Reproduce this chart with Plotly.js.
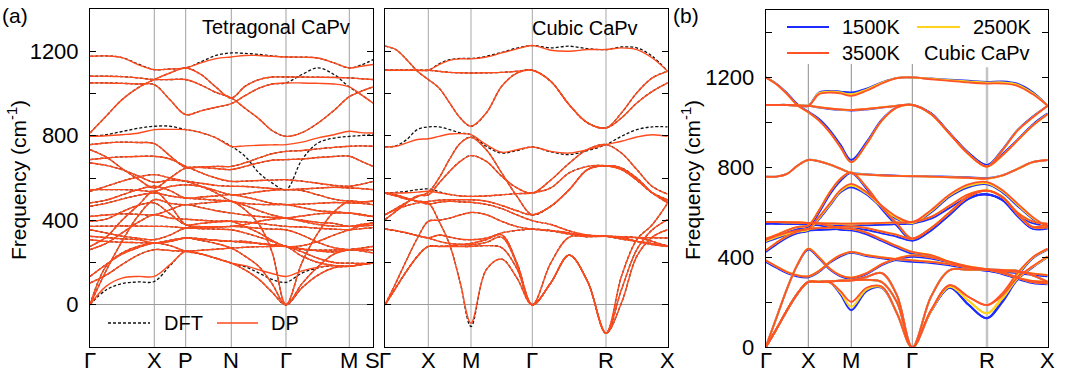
<!DOCTYPE html>
<html><head><meta charset="utf-8">
<script src="https://cdn.plot.ly/plotly-3.0.1.min.js"></script>
<style>body{margin:0;background:#fff}#c{width:1080px;height:383px}</style>
</head><body><div id="c"></div>
<script>
// ---------- k-paths (distance along path) ----------
const tetraK = [0,16,32,48,64.3,80,95.7,111,126,141.3,155,169,182,196,212,228,244,259.3,271,283];
const tetraTickPos = [0,64.3,95.7,141.3,196,259.3,283];
const tetraTickText = ['Γ','X','P','N','Γ','M','S'];

const cubicK = [0,10.8,21.7,32.5,43.3,54,64.7,75.3,86,101.3,116.7,132,147.3,165.7,184.2,202.6,221,236.4,251.8,267.3,282.7];
const cubicTickPos = [0,43.3,86,147.3,221,282.7];
const cubicTickText = ['Γ','X','M','Γ','R','X'];

const tempK = [0,10.65,21.3,31.95,42.6,53.35,64.1,74.85,85.6,100.85,116.1,131.35,146.6,165.3,183.95,202.65,221.3,236.5,251.65,266.85,282];
const tempTickPos = [0,42.6,85.6,146.6,221.3,282];
const tempTickText = ['Γ','X','M','Γ','R','X'];

// ---------- panel (a) left: tetragonal CaPv, DP bands (cm^-1) ----------
const t1  = [1176,1178,1170,1137,1113,1116,1121,1145,1165,1173,1180,1180,1176,1173,1172,1168,1145,1121,1129,1137];
const t2  = [1082,1082,1080,1074,1066,1066,1066,1040,1005,979,930,880,825,797,815,860,920,985,1010,1031];
const t3  = [1050,1050,1048,1045,1042,970,900,918,935,952,990,1025,1045,1050,1050,1048,1045,1031,995,955];
const t4  = [813,892,971,1027,1066,1097,1121,1090,1030,979,1034,1066,1078,1078,1078,1077,1076,1074,1070,1066];
const t5  = [797,800,805,812,829,830,829,815,790,750,752,755,757,758,770,790,805,821,815,813];
const t6  = [758,766,770,768,763,705,650,652,655,655,672,695,715,726,730,738,745,750,752,750];
const t7  = [734,700,645,595,553,600,647,650,645,640,655,672,684,687,690,697,702,703,680,655];
const t8  = [687,695,700,702,703,690,655,625,600,584,585,588,590,592,585,575,565,561,570,584];
const t9  = [671,660,640,610,580,590,585,575,565,561,560,555,550,545,548,552,556,553,550,545];
const t10 = [545,545,545,542,537,560,568,560,540,521,525,535,542,545,540,520,500,490,487,490];
const t11 = [537,560,585,605,616,600,585,560,530,490,480,475,474,474,476,480,484,482,480,474];
const t12 = [482,495,520,545,561,540,505,510,515,521,510,495,480,474,460,445,440,434,428,418];
const t13 = [466,480,500,518,529,515,505,500,495,490,470,445,425,410,400,390,385,371,380,387];
const t14 = [418,425,430,428,426,450,474,460,445,434,425,418,413,410,395,380,372,371,373,376];
const t15 = [395,405,440,470,482,430,379,385,392,395,392,385,378,371,368,362,358,355,360,365];
const t16 = [371,372,373,372,371,370,363,364,367,371,368,362,358,355,330,295,270,261,258,261];
const t17 = [355,340,325,315,308,330,363,360,358,355,340,320,300,276,262,258,259,261,255,245];
const t18 = [324,318,312,308,292,305,316,312,305,300,295,290,284,276,250,220,200,197,196,197];
const t19 = [308,300,296,294,292,300,316,310,305,300,300,290,283,276,230,200,186,182,190,197];
const t20 = [276,320,400,470,537,470,379,370,370,371,380,395,405,410,420,430,434,434,425,418];
const t21 = [261,290,340,390,426,410,405,400,396,395,370,340,305,276,280,300,330,355,375,387];
const t22 = [134,190,240,270,292,280,253,240,220,197,185,165,148,134,160,178,185,182,190,197];
const t23 = [0,87,126,134,134,190,253,240,220,197,165,120,60,0,80,140,175,182,190,197];
const t24 = [0,182,245,276,292,300,316,305,290,268,230,180,100,0,100,180,240,261,268,276];
const t25 = [0,160,300,420,497,480,474,480,486,490,450,380,250,0,200,340,440,490,487,490];
const t26 = [103,140,190,235,261,257,253,258,263,268,272,275,276,276,265,255,250,261,262,261];
// DFT where it departs from DP
const dftT1  = [1176,1178,1170,1140,1113,1116,1121,1150,1180,1192,1190,1185,1178,1173,1172,1168,1145,1121,1135,1160];
const dftT3  = [1050,1050,1048,1045,1042,970,900,918,935,952,990,1025,1045,1050,1090,1121,1090,1031,995,955];
const dftT5  = [797,805,820,835,845,845,829,815,790,750,703,624,577,545,687,766,789,797,801,805];
const dftT22 = [134,190,240,270,292,280,253,240,220,197,180,150,120,106,150,175,185,182,190,197];
const dftT23 = [0,70,100,108,110,185,253,240,220,197,165,120,60,0,80,140,175,182,190,197];

// ---------- panel (a) right: cubic CaPv, DP bands ----------
const c1  = [1224,1208,1160,1105,1066,1026,955,884,845,908,1034,1097,1110,1058,947,861,837,884,955,1010,1050];
const c2  = [1110,1110,1110,1110,1110,1137,1157,1164,1164,1173,1192,1211,1227,1205,1200,1208,1208,1216,1208,1168,1105];
const c3  = [1110,1110,1110,1110,1110,1105,1100,1098,1097,1098,1100,1105,1110,1058,947,861,837,908,1003,1074,1105];
const c4  = [747,750,766,782,786,797,808,810,805,758,722,734,747,726,718,734,758,774,794,805,797];
const c5  = [426,455,485,512,532,600,690,765,793,734,624,513,426,466,545,640,658,647,592,529,482];
const c6  = [403,442,482,516,520,576,632,679,706,679,608,553,529,590,670,735,758,718,640,560,524];
const c7  = [529,529,530,533,537,530,522,515,513,515,520,526,529,553,624,655,658,640,590,530,497];
const c8  = [426,450,469,482,489,495,497,497,497,490,470,445,426,466,545,640,658,647,600,530,490];
const c9  = [529,520,505,490,477,485,490,487,485,475,455,425,398,380,350,330,324,311,300,290,280];
const c10 = [0,103,213,316,395,400,410,425,437,426,395,370,358,350,335,325,324,320,318,317,316];
const c11 = [358,351,340,327,316,330,320,310,308,315,340,352,358,352,340,328,324,318,300,285,276];
const c12 = [0,80,160,230,276,276,278,285,290,308,331,197,0,197,320,322,324,322,318,300,276];
const c13 = [0,80,160,230,276,276,276,276,276,280,270,170,0,103,235,110,-134,71,261,355,403];
const c14 = [529,515,500,490,482,395,284,103,-87,166,216,126,0,103,235,110,-134,8,229,320,355];
const c15 = [358,351,340,327,316,300,290,286,284,295,320,190,0,103,235,110,-134,134,308,379,482];
const dftC2  = [1110,1110,1110,1110,1110,1140,1160,1166,1166,1176,1195,1215,1227,1216,1224,1212,1208,1220,1216,1176,1105];
const dftC4  = [747,752,782,830,842,842,829,813,805,750,718,730,747,724,711,730,758,797,829,842,842];
const dftC7  = [529,532,537,545,548,535,522,515,513,515,520,526,529,553,624,655,658,640,590,530,497];
const dftC14 = [529,515,500,490,482,395,284,103,-103,166,216,126,0,103,235,110,-134,8,229,320,355];

// ---------- panel (b): cubic CaPv at 3500 K ----------
const e1r  = [1200,1170,1126,1075,1045,1008,956,889,823,904,1008,1067,1078,1037,949,860,804,875,963,1022,1074];
const e2r  = [1078,1078,1078,1076,1074,1126,1133,1129,1118,1141,1173,1197,1200,1192,1185,1178,1173,1173,1163,1126,1074];
const e3r  = [1078,1078,1077,1075,1074,1068,1062,1058,1055,1060,1067,1074,1078,1037,949,860,804,853,919,985,1037];
const e4r  = [759,759,771,808,833,827,813,794,774,768,764,762,761,759,756,754,750,764,793,823,833];
const e5r  = [483,500,520,535,542,610,690,750,778,712,624,550,483,530,600,670,697,668,594,535,550];
const e6r  = [476,495,510,520,527,580,640,700,727,690,630,580,557,610,680,725,735,700,640,580,535];
const e7r  = [557,557,556,555,553,552,551,550,550,551,553,555,557,580,630,680,697,670,600,560,550];
const e8r  = [431,465,495,515,527,530,532,535,538,530,515,500,483,530,600,670,697,668,594,535,535];
const e9r  = [557,557,556,555,553,550,540,530,527,510,480,450,424,410,380,355,346,340,335,328,321];
const e10r = [0,130,260,370,439,400,350,320,310,330,370,395,409,400,380,360,346,330,310,295,291];
const e11r = [387,360,335,320,316,340,380,410,424,410,400,392,387,380,370,355,346,335,310,290,284];
const e12r = [0,80,165,240,291,291,293,296,298,313,330,230,0,225,343,345,346,344,340,320,291];
const e13r = [0,80,165,240,291,291,289,250,202,265,270,150,0,165,276,225,188,240,330,400,439];
const e14r = [0,80,165,240,291,291,293,296,298,300,290,200,0,165,276,225,188,230,310,360,405];
// 1500 K
const e1b  = [1200,1172,1130,1080,1048,1015,965,900,833,912,1012,1068,1078,1040,952,865,810,878,965,1025,1074];
const e2b  = [1078,1078,1078,1076,1074,1133,1140,1137,1133,1150,1178,1198,1200,1195,1190,1185,1180,1182,1172,1135,1074];
const e3b  = [1078,1078,1077,1075,1074,1066,1060,1056,1053,1058,1066,1074,1078,1040,952,865,810,858,922,990,1040];
const e4b  = [759,759,771,808,833,827,813,794,776,770,766,763,761,760,758,756,752,764,793,823,833];
const e5b  = [475,492,510,525,533,600,680,740,775,705,615,540,475,520,590,660,680,655,585,528,540];
const e6b  = [468,485,500,510,518,570,630,690,712,680,620,570,550,600,670,712,725,690,630,572,528];
const e7b  = [550,550,549,548,546,545,543,542,542,543,545,548,550,572,620,668,680,658,592,552,540];
const e8b  = [424,458,488,508,519,522,524,527,530,522,507,492,475,520,590,660,680,655,585,528,528];
const e9b  = [550,550,549,548,546,543,533,523,520,503,473,443,417,405,375,350,341,336,330,322,316];
const e10b = [0,130,260,368,435,396,346,316,305,326,366,390,403,395,376,356,341,326,306,290,286];
const e11b = [380,354,330,315,312,336,376,405,420,406,396,387,380,375,365,350,341,330,305,286,280];
const e12b = [0,80,165,240,291,291,293,296,298,313,330,230,0,225,343,345,346,344,340,320,291];
const e13b = [0,80,165,240,291,291,289,235,165,250,265,150,0,160,265,190,129,210,315,395,435];
const e14b = [0,80,165,240,291,291,293,296,298,300,290,200,0,160,265,190,129,200,300,355,400];
// 2500 K
const e2y  = [1078,1078,1078,1076,1074,1130,1137,1133,1125,1146,1176,1198,1200,1194,1188,1182,1177,1178,1168,1130,1074];
const e6y  = [472,490,505,515,522,575,635,695,720,685,625,575,553,605,675,718,730,695,635,576,531];
const e13y = [0,80,165,240,291,291,289,243,180,257,267,150,0,162,270,208,151,225,322,398,437];
const e14y = [0,80,165,240,291,291,293,296,298,300,290,200,0,162,270,208,151,215,305,358,402];

// ---------- build ----------
const traces = [];
function addBands(xa, ya, k, bands, color, width, dash) {
  bands.forEach(b => traces.push({
    x: k, y: b, xaxis: xa, yaxis: ya, type: 'scatter', mode: 'lines',
    line: {color: color, width: width, dash: dash || 'solid', shape: 'spline', smoothing: 1},
    hoverinfo: 'skip'
  }));
}
const RED = '#ff4a1c', BLACK = '#111', BLUE = '#1e2cff', YEL = '#ffd21c', RED3 = '#ff5226';
const DOT = '3px,2px';

const tetraDP = [t1,t2,t3,t4,t5,t6,t7,t8,t9,t10,t11,t12,t13,t14,t15,t16,t17,t18,t19,t20,t21,t22,t23,t24,t25,t26];
const tetraDFT = [dftT1,t2,dftT3,t4,dftT5,t6,t7,t8,t9,t10,t11,t12,t13,t14,t15,t16,t17,t18,t19,t20,t21,dftT22,dftT23,t24,t25,t26];
const cubicDP = [c1,c2,c3,c4,c5,c6,c7,c8,c9,c10,c11,c12,c13,c14,c15];
const cubicDFT = [c1,dftC2,c3,dftC4,c5,c6,dftC7,c8,c9,c10,c11,c12,c13,dftC14,c15];
const t1500 = [e1b,e2b,e3b,e4b,e5b,e6b,e7b,e8b,e9b,e10b,e11b,e12b,e13b,e14b];
const t2500 = [e1r,e2y,e3r,e4r,e5r,e6y,e7r,e8r,e9r,e10r,e11r,e12r,e13y,e14y];
const t3500 = [e1r,e2r,e3r,e4r,e5r,e6r,e7r,e8r,e9r,e10r,e11r,e12r,e13r,e14r];

addBands('x','y',tetraK,tetraDFT,BLACK,1.3,DOT);
addBands('x','y',tetraK,tetraDP,RED,1.4);
addBands('x2','y2',cubicK,cubicDFT,BLACK,1.3,DOT);
addBands('x2','y2',cubicK,cubicDP,RED,1.4);
addBands('x3','y3',tempK,t1500,BLUE,2);
addBands('x3','y3',tempK,t2500,YEL,2);
addBands('x3','y3',tempK,t3500,RED3,1.8);

const FONT = 'Liberation Sans, Arial, Helvetica, sans-serif';

function xax(dom, range, anchor) {
  return {domain: dom, range: range, anchor: anchor, ticks: '', showticklabels: false,
    showline: true, mirror: true, linecolor: '#000', linewidth: 1, showgrid: false, zeroline: false,
    fixedrange: true};
}
function yax(dom, range, anchor, showLabels) {
  return {domain: dom, range: range, anchor: anchor, tickmode: 'linear', tick0: 0, dtick: 400,
    ticks: 'inside', ticklen: 6, tickwidth: 1, tickcolor: '#000',
    minor: {tickmode: 'linear', tick0: 0, dtick: 200, ticks: 'inside', ticklen: 6, tickwidth: 1, tickcolor: '#000', showgrid: false},
    showline: true, mirror: 'ticks', linecolor: '#000',
    linewidth: 1, showgrid: false, zeroline: true, zerolinecolor: '#9a9a9a', zerolinewidth: 1,
    showticklabels: showLabels, ticklabelstandoff: 6,
    tickfont: {family: FONT, size: 22, color: '#000'}, fixedrange: true};
}

const domY = [0.094, 0.9765];
const domY3 = [0.0932, 0.9739];
const shapes = [];
function vline(xa, ya, x, y0, y1, color, w) {
  shapes.push({type: 'line', xref: xa, yref: ya, x0: x, x1: x, y0: y0, y1: y1,
    line: {color: color, width: w}, layer: 'below'});
}
tetraTickPos.slice(1, -1).forEach(p => vline('x','y',p,-200,1400,'#a0a0a0',1));
cubicTickPos.slice(1, -1).forEach(p => vline('x2','y2',p,-200,1400,'#a8a8a8',1));
tempTickPos.slice(1, 4).forEach(p => vline('x3','y3',p,0,1260,'#8c8c8c',1));
vline('x3','y3',tempTickPos[4],0,1245,'#c4c4c4',2.5);

// legend samples (paper coords)
function seg(x0, x1, y, color, w, dash) {
  shapes.push({type: 'line', xref: 'paper', yref: 'paper', x0: x0/1080, x1: x1/1080,
    y0: (383-y)/383, y1: (383-y)/383, line: {color: color, width: w, dash: dash || 'solid'}});
}
seg(108,150,323,BLACK,1.4,DOT);
seg(217,258,323,RED,1.4);
seg(787,829,27,BLUE,2);
seg(917,960,27,YEL,2);
seg(787,829,53,RED3,2);

const annotations = [];
function txt(text, x, y, size, xanchor, angle) {
  annotations.push({text: text, xref: 'paper', yref: 'paper', x: x/1080, y: (383-y)/383,
    xanchor: xanchor || 'center', yanchor: 'middle', showarrow: false, textangle: angle || 0,
    font: {family: FONT, size: size, color: '#000'}});
}
// high-symmetry point labels, placed on each panel's x scale
function kLabels(xa, pos, labels) {
  pos.forEach((p, i) => annotations.push({text: labels[i], xref: xa, yref: 'paper', x: p,
    y: (383-360)/383, xanchor: 'center', yanchor: 'middle', showarrow: false,
    font: {family: FONT, size: 22, color: '#000'}}));
}
kLabels('x', tetraTickPos, tetraTickText);
kLabels('x2', cubicTickPos, cubicTickText);
kLabels('x3', tempTickPos, tempTickText);

txt('(a)', 15, 16, 21);
txt('(b)', 686, 16, 21);
txt('Tetragonal CaPv', 276, 27, 20);
txt('Cubic CaPv', 585, 28, 20);
txt('DFT', 162, 323, 20, 'left');
txt('DP', 269, 323, 20, 'left');
txt('1500K', 840, 27, 20, 'left');
txt('2500K', 971, 27, 20, 'left');
txt('3500K', 840, 53, 20, 'left');
txt('Cubic CaPv', 922, 53, 20, 'left');
txt('Frequency (cm<sup>-1</sup>)', 17, 180, 21, 'center', -90);
txt('Frequency (cm<sup>-1</sup>)', 691, 180, 21, 'center', -90);

const layout = {
  width: 1080, height: 383, margin: {l: 0, r: 0, t: 0, b: 0},
  paper_bgcolor: '#fff', plot_bgcolor: '#fff', showlegend: false,
  xaxis:  xax([0.08333, 0.34537], [0, 283], 'y'),
  yaxis:  yax(domY, [-200, 1400], 'x', true),
  xaxis2: xax([0.35648, 0.61824], [0, 282.7], 'y2'),
  yaxis2: yax(domY, [-200, 1400], 'x2', false),
  xaxis3: xax([0.70898, 0.97009], [0, 282], 'y3'),
  yaxis3: yax(domY3, [0, 1500], 'x3', true),
  shapes: shapes, annotations: annotations
};
layout.yaxis3.zeroline = false;
Plotly.newPlot('c', traces, layout, {staticPlot: true, displayModeBar: false});
</script></body></html>
